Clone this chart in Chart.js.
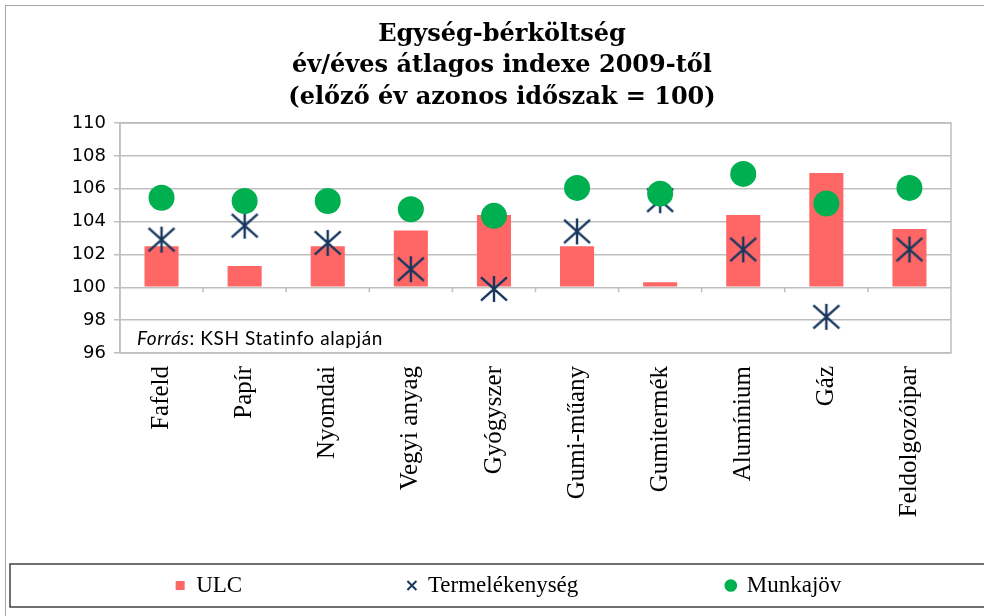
<!DOCTYPE html>
<html>
<head>
<meta charset="utf-8">
<script src="https://cdn.jsdelivr.net/npm/chart.js@4"></script>
<style>
  html, body { margin: 0; padding: 0; background: #fff; }
  #wrap { width: 984px; height: 616px; }
</style>
</head>
<body>
<div id="wrap"><canvas id="myChart" width="984" height="616"></canvas></div>
<script>
const categories = [
    "Fafeld",
    "Papír",
    "Nyomdai",
    "Vegyi anyag",
    "Gyógyszer",
    "Gumi-műany",
    "Gumitermék",
    "Alumínium",
    "Gáz",
    "Feldolgozóipar",
];

const ulc = [102.5, 101.3, 102.5, 103.45, 104.4, 102.5, 100.3, 104.4, 106.95, 103.55];
const termelekenyseg = [102.9, 103.75, 102.7, 101.1, 99.9, 103.4, 105.3, 102.3, 98.2, 102.3];
const munkajov = [105.45, 105.25, 105.25, 104.75, 104.35, 106.05, 105.7, 106.9, 105.1, 106.05];

const yTicks = [96, 98, 100, 102, 104, 106, 108, 110];

const titleLines = [
    "Egység-bérköltség",
    "év/éves átlagos indexe 2009-től",
    "(előző év azonos időszak = 100)",
];

const NAVY = "#17375E";
const GREEN = "#00B050";
const RED = "#FF6666";
const GRID = "#BFBFBF";

// asterisk marker: an X with a vertical stroke
function makeStar(r) {
    const c = document.createElement("canvas");
    const s = r * 2 + 4;
    c.width = s;
    c.height = s;
    const g = c.getContext("2d");
    const m = s / 2;
    g.strokeStyle = NAVY;
    g.lineWidth = 2.4;
    g.beginPath();
    g.moveTo(m - r, m - r * 0.9);
    g.lineTo(m + r, m + r * 0.9);
    g.moveTo(m + r, m - r * 0.9);
    g.lineTo(m - r, m + r * 0.9);
    g.moveTo(m, m - r);
    g.lineTo(m, m + r);
    g.stroke();
    return c;
}
const star = makeStar(13);

const framePlugin = {
    id: "frame",
    beforeDraw(chart) {
        const ctx = chart.ctx;
        ctx.save();
        ctx.fillStyle = "#fff";
        ctx.fillRect(0, 0, chart.width, chart.height);
        ctx.strokeStyle = "#A6A6A6";
        ctx.lineWidth = 1;
        ctx.strokeRect(5.5, 5.5, chart.width + 20, chart.height + 20);
        ctx.restore();
    },
    beforeDatasetsDraw(chart) {
        const ctx = chart.ctx;
        const a = chart.chartArea;
        const x = chart.scales.x;
        const y0 = chart.scales.y.getPixelForValue(100);
        ctx.save();
        ctx.strokeStyle = GRID;
        ctx.lineWidth = 1.5;
        ctx.strokeRect(a.left, a.top, a.right - a.left, a.bottom - a.top);
        ctx.beginPath();
        for (let i = 1; i < categories.length; i++) {
            const px = (x.getPixelForValue(i - 1) + x.getPixelForValue(i)) / 2;
            ctx.moveTo(px, y0);
            ctx.lineTo(px, y0 + 5);
        }
        ctx.stroke();
        ctx.restore();
    },
    afterDraw(chart) {
        const ctx = chart.ctx;
        const a = chart.chartArea;
        ctx.save();
        // title
        ctx.fillStyle = "#000";
        ctx.font = "bold 24px 'DejaVu Serif'";
        ctx.textBaseline = "middle";
        ctx.textAlign = "center";
        const tops = [35, 66, 98];
        titleLines.forEach((t, i) => ctx.fillText(t, 502, tops[i]));

        // source note
        ctx.textAlign = "left";
        ctx.textBaseline = "alphabetic";
        ctx.letterSpacing = "0.6px";
        ctx.font = "italic 19px Lato";
        const f = "Forrás";
        ctx.fillText(f, a.left + 17, a.bottom - 8);
        const w = ctx.measureText(f).width;
        ctx.font = "19px Lato";
        ctx.fillText(": KSH Statinfo alapján", a.left + 17 + w, a.bottom - 8);
        ctx.letterSpacing = "0px";

        // legend box
        const lg = chart.legend;
        ctx.strokeStyle = "#404040";
        ctx.lineWidth = 1.5;
        ctx.strokeRect(10, lg.top, chart.width, lg.bottom - lg.top);
        ctx.restore();
    },
};

const data = {
    labels: categories,
    datasets: [
        {
            type: "bar",
            label: "ULC",
            data: ulc,
            base: 100,
            backgroundColor: RED,
            barPercentage: 0.82,
            categoryPercentage: 0.5,
            order: 3,
        },
        {
            type: "line",
            label: "Termelékenység",
            data: termelekenyseg,
            showLine: false,
            pointStyle: star,
            borderColor: NAVY,
            backgroundColor: NAVY,
            order: 2,
        },
        {
            type: "line",
            label: "Munkajöv",
            data: munkajov,
            showLine: false,
            pointStyle: "circle",
            pointRadius: 13,
            pointBorderWidth: 0,
            backgroundColor: GREEN,
            borderColor: GREEN,
            order: 1,
        },
    ],
};

// legend marker per dataset and the wide gaps between items
const legendStyles = ["rect", "crossRot", "circle"];
const legendGaps = [27, 24, 0];

const config = {
    data: data,
    plugins: [framePlugin],
    options: {
        responsive: false,
        animation: false,
        layout: {
            padding: { top: 123, left: 66, right: 33, bottom: 9 },
        },
        plugins: {
            tooltip: { enabled: false },
            title: { display: false },
            legend: {
                position: "bottom",
                labels: {
                    color: "#000",
                    font: { family: "'Liberation Serif'", size: 23 },
                    usePointStyle: true,
                    boxWidth: 9,
                    boxHeight: 9,
                    padding: 10,
                    generateLabels(chart) {
                        const items = Chart.defaults.plugins.legend.labels.generateLabels(chart);
                        items.sort((p, q) => p.datasetIndex - q.datasetIndex);
                        items.forEach((it) => {
                            const i = it.datasetIndex;
                            it.pointStyle = legendStyles[i];
                            it.lineWidth = i === 1 ? 2 : 0;
                            it.strokeStyle = i === 1 ? NAVY : it.fillStyle;
                            it.text = it.text + " ".repeat(legendGaps[i]);
                        });
                        return items;
                    },
                },
            },
        },
        scales: {
            x: {
                grid: { display: false, drawTicks: false },
                border: { display: false },
                ticks: {
                    color: "#000",
                    font: { family: "'Liberation Serif'", size: 25 },
                    minRotation: 90,
                    maxRotation: 90,
                    padding: 13,
                    autoSkip: false,
                },
                afterFit(scale) {
                    const lg = scale.chart.legend;
                    scale.height = scale.chart.height - 9 - (lg ? lg.height : 44) - 353;
                },
            },
            y: {
                min: yTicks[0],
                max: yTicks[yTicks.length - 1],
                afterBuildTicks(scale) {
                    scale.ticks = yTicks.map((v) => ({ value: v }));
                },
                grid: { color: GRID, lineWidth: 1.5, tickLength: 6 },
                border: { color: GRID, width: 1.5 },
                ticks: {
                    color: "#000",
                    font: { family: "'DejaVu Sans'", size: 18 },
                    padding: 8,
                },
                afterFit(scale) {
                    scale.width = 54;
                },
            },
        },
    },
};

new Chart(document.getElementById("myChart"), config);
</script>
</body>
</html>
